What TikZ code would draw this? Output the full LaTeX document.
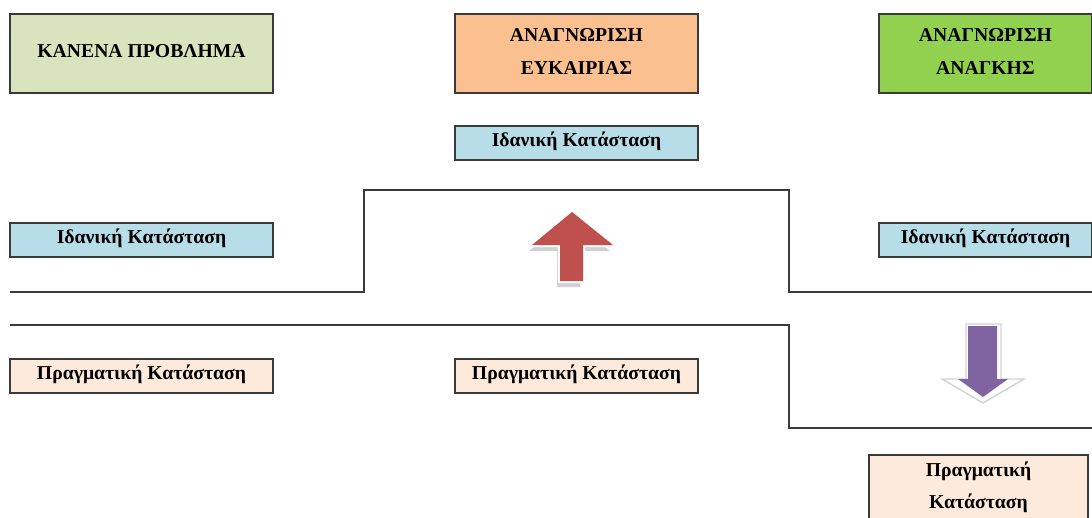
\documentclass[tikz,border=0pt]{standalone}
\usepackage{fontspec}
\setmainfont{Liberation Serif}
\usetikzlibrary{positioning}
\definecolor{nogreen}{HTML}{D7E4BD}
\definecolor{chanceorange}{HTML}{FAC090}
\definecolor{needgreen}{HTML}{92D050}
\definecolor{idealblue}{HTML}{B7DEE8}
\definecolor{realpeach}{HTML}{FDEADA}
\definecolor{arrowred}{HTML}{C0504D}
\definecolor{arrowpurple}{HTML}{8064A2}
\definecolor{edgegray}{HTML}{3A3A3A}

\begin{document}
\begin{tikzpicture}[x=0.025cm, y=-0.025cm,
    box/.style={draw=edgegray, line width=0.9pt, rectangle, inner sep=0pt,
      font=\bfseries\fontsize{14}{22.8}\selectfont},
    oneline/.style={box, text height=9.4pt, text depth=4.6pt},
    headtext/.style={inner sep=0pt, align=center, font=\bfseries\fontsize{14}{23}\selectfont},
    level/.style={draw=edgegray, line width=1.2pt}]
  \useasboundingbox (0,0) rectangle (1092,518);
  \clip (0,0) rectangle (1092,518);

  % headers
  \node[box, fill=nogreen, minimum width=6.575cm, minimum height=1.975cm, text height=10.4pt, text depth=4.8pt] (none) at (141.5,53.5) {ΚΑΝΕΝΑ ΠΡΟΒΛΗΜΑ};
  \node[box, fill=chanceorange, minimum width=6.075cm, minimum height=1.975cm] (chance) at (576.5,53.5) {};
  \node[headtext] (chance text) at ([yshift=1.5pt]chance.center) {ΑΝΑΓΝΩΡΙΣΗ\\ΕΥΚΑΙΡΙΑΣ};
  \node[box, fill=needgreen, minimum width=5.325cm, minimum height=1.975cm] (need) at (985.5,53.5) {};
  \node[headtext] (need text) at ([yshift=1.5pt]need.center) {ΑΝΑΓΝΩΡΙΣΗ\\ΑΝΑΓΚΗΣ};

  % ideal states
  \node[oneline, fill=idealblue, minimum width=6.075cm, minimum height=0.85cm] (idealB) at (576.5,143) {Ιδανική Κατάσταση};
  \node[oneline, fill=idealblue, minimum width=6.575cm, minimum height=0.85cm] (idealA) at (141.5,240) {Ιδανική Κατάσταση};
  \node[oneline, fill=idealblue, minimum width=5.325cm, minimum height=0.85cm] (idealC) at (985.5,240) {Ιδανική Κατάσταση};

  % real states
  \node[oneline, fill=realpeach, minimum width=6.575cm, minimum height=0.85cm] (realA) at (141.5,376) {Πραγματική Κατάσταση};
  \node[oneline, fill=realpeach, minimum width=6.075cm, minimum height=0.85cm] (realB) at (576.5,376) {Πραγματική Κατάσταση};
  \node[box, fill=realpeach, minimum width=5.475cm, minimum height=1.625cm] (realC) at (978.5,487.5) {};
  \node[headtext] (realC text) at (realC.center) {Πραγματική\\Κατάσταση};

  % levels
  \draw[level] (10,292) -- (364,292) -- (364,190) -- (789,190) -- (789,292) -- (1092,292);
  \draw[level] (10,325) -- (789,325) -- (789,428) -- (1092,428);

  % up arrow
  \fill[gray!60, opacity=0.6] (569,218) -- (610,251) -- (580,251) -- (580,287) -- (557,287) -- (557,251) -- (529,251) -- cycle;
  \draw[white, line width=3pt, line join=miter] (572,212) -- (613,245) -- (583,245) -- (583,281) -- (560,281) -- (560,245) -- (532,245) -- cycle;
  \fill[arrowred] (572,212) -- (613,245) -- (583,245) -- (583,281) -- (560,281) -- (560,245) -- (532,245) -- cycle;

  % down arrow
  \filldraw[fill=white, draw=gray!35, line width=1pt] (966,324) -- (1001,324) -- (1001,379) -- (1024,379) -- (983,403) -- (942,379) -- (966,379) -- cycle;
  \fill[arrowpurple] (968,326) -- (997,326) -- (997,379) -- (1008,379) -- (983,397) -- (958,379) -- (968,379) -- cycle;
\end{tikzpicture}
\end{document}
